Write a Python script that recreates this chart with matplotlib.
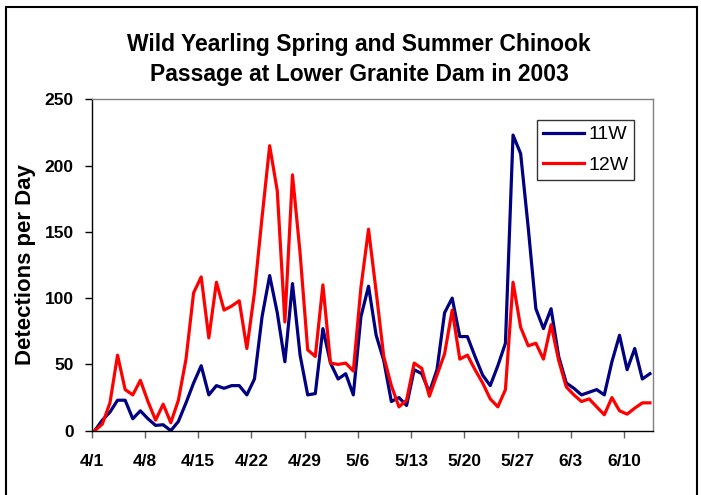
import matplotlib
matplotlib.use("Agg")
import matplotlib.pyplot as plt
import matplotlib.patches as mpatches
import numpy as np

plt.rcParams["font.family"] = ["Liberation Sans", "DejaVu Sans"]

# Detecciones diarias, 4/1 a 6/13 (2003)
fish_11w = [0, 8, 14, 23, 23, 9, 15, 9, 4, 4.5,
            0, 7, 21, 36, 49, 27, 34, 32, 34, 34,
            27, 39, 86, 117, 89, 52, 111, 57, 27, 28,
            77, 51, 39, 43, 27, 86, 109, 72, 53, 22,
            25, 19, 46, 43, 29, 46, 89, 100, 71, 71,
            56, 42, 34, 49, 66, 223, 209, 153, 92, 77,
            92, 56, 36, 32, 27, 29, 31, 27, 52, 72,
            46, 62, 39, 43]
fish_12w = [0, 5, 21, 57, 31, 27, 38, 22, 8, 20,
            6, 23, 54, 104, 116, 70, 112, 91, 94, 98,
            62, 104, 161, 215, 181, 82, 193, 134, 61, 56,
            110, 51, 50, 51, 45, 108, 152, 105, 56, 34,
            18, 23, 51, 47, 26, 42, 58, 91, 54, 57,
            46, 36, 24, 18, 31, 112, 78, 64, 66, 54,
            80, 53, 33, 27, 22, 24, 18, 12, 25, 15,
            12.5, 17, 21, 21]
tick_labels = ["4/1", "4/8", "4/15", "4/22", "4/29", "5/6",
               "5/13", "5/20", "5/27", "6/3", "6/10"]
series_names = ["11W", "12W"]

days = np.arange(len(fish_11w))

fig = plt.figure(figsize=(7.01, 4.95), dpi=100)
ax = fig.add_axes([0.1308, 0.1299, 0.8007, 0.6695])

ax.plot(days, fish_11w, color="#000080", lw=2.3, label=series_names[0])
ax.plot(days, fish_12w, color="#FF0000", lw=2.3, label=series_names[1])

ax.set_xlim(-0.4, len(days) - 0.6)
ax.set_ylim(0, 250)
ax.set_yticks(np.arange(0, 251, 50))
ax.set_xticks(np.arange(0, len(days), 7) - 0.4)
ax.set_xticklabels(tick_labels)

for side in ["top", "right"]:
    ax.spines[side].set_color("#808080")
    ax.spines[side].set_linewidth(1.0)
for side in ["left", "bottom"]:
    ax.spines[side].set_color("black")
    ax.spines[side].set_linewidth(1.0)

ax.tick_params(axis="y", direction="out", length=5, width=1, color="black",
               labelsize=12.5, pad=8)
ax.tick_params(axis="x", direction="out", length=5, width=1, color="#606060",
               labelsize=12.5, pad=12)
for lab in ax.get_xticklabels() + ax.get_yticklabels():
    lab.set_fontweight("bold")

ax.set_ylabel("Detections per Day", fontsize=16, fontweight="bold", labelpad=6)

fig.text(359 / 701, 1 - 45 / 495, "Wild Yearling Spring and Summer Chinook",
         ha="center", va="center", fontsize=16.5, fontweight="bold")
fig.text(359 / 701, 1 - 75 / 495, "Passage at Lower Granite Dam in 2003",
         ha="center", va="center", fontsize=16.5, fontweight="bold")

leg = ax.legend(loc="upper left", bbox_to_anchor=(536.7 / 701, 1 - 120 / 495),
                bbox_transform=fig.transFigure, borderaxespad=0,
                fontsize=14, fancybox=False, handlelength=2.15,
                labelspacing=0.65, handletextpad=0.2, borderpad=0.3)
leg.get_frame().set_edgecolor("black")
leg.get_frame().set_linewidth(1.0)

# borde del área del gráfico
fig.patches.append(mpatches.Rectangle((6 / 701, -0.05), 691 / 701, 1.05 - 7 / 495,
                                      transform=fig.transFigure, fill=False,
                                      edgecolor="black", linewidth=1.5))

fig.savefig("out.png", dpi=100)
